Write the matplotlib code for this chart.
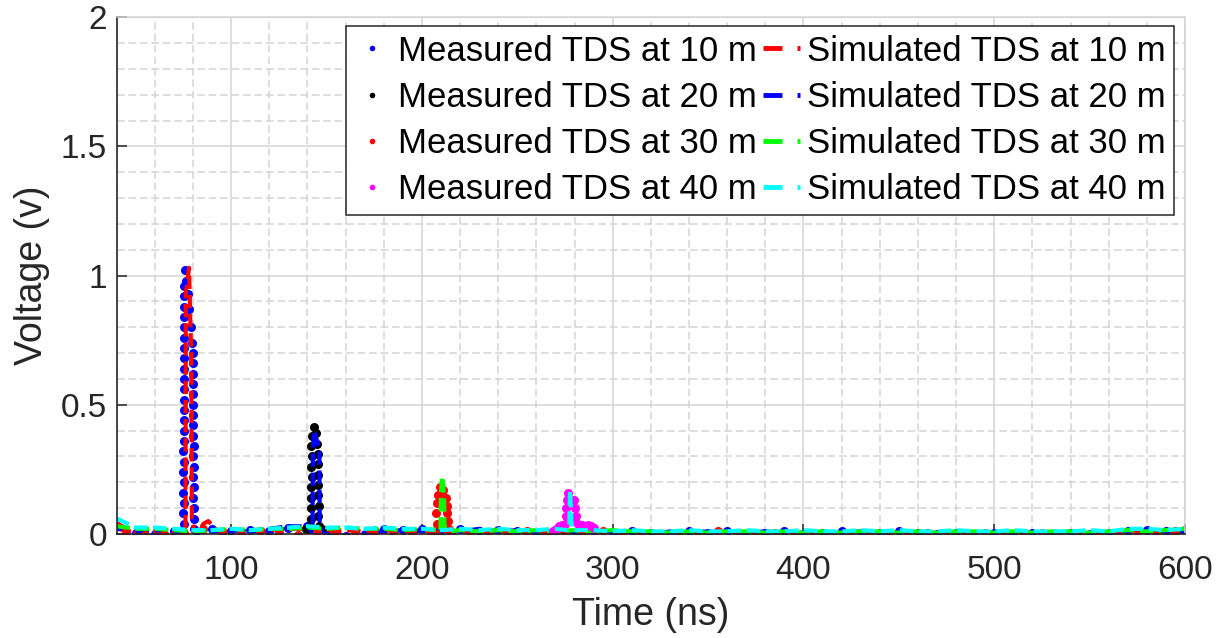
import numpy as np
import matplotlib
matplotlib.use('Agg')
import matplotlib.pyplot as plt
from matplotlib.lines import Line2D
from matplotlib.ticker import MultipleLocator

plt.rcParams['font.family'] = ['Liberation Sans', 'DejaVu Sans']

# baseline records are sampled every 10 ns, peaks are listed point by point
grid_step = 10

# Measured TDS at 10 m (blue dots), baseline from 40 ns
meas10_base = [0.03, 0.005, 0.0, 0.01, 0.0, 0.02, 0.01, 0.015, 0.01, 0.025,
               0.03, -0.005, -0.008, 0.0, 0.02, 0.015, 0.02, 0.01, 0.02, 0.01,
               0.015, 0.01, 0.005, 0.01, 0.0, 0.01, 0.005, 0.01, 0.005, 0.0,
               0.01, 0.005, 0.01, 0.0, 0.005, 0.01, 0.0, 0.005, 0.01, 0.0,
               0.005, 0.01, 0.005, 0.0, 0.005, 0.0, 0.005, 0.0, 0.005, 0.0,
               0.005, 0.0, 0.005, 0.01, 0.015, 0.01, 0.015]
meas10_peak_t = [74.7, 75.1, 74.8, 75.2, 74.8, 75.1, 74.9, 75.3, 74.9, 75.2,
                 75.0, 75.3, 75.0, 75.3, 75.0, 75.4, 75.1, 75.4, 75.1, 75.4,
                 75.2, 75.5, 75.3, 75.5, 75.5, 75.6,
                 76.3, 77.1, 77.9, 78.7, 79.4, 79.8, 80.0, 79.8, 80.1, 79.9,
                 80.2, 80.0, 80.2, 80.0, 80.3, 80.1, 80.3, 80.1, 80.4, 80.2,
                 80.4, 80.3, 80.6, 81.3]
meas10_peak_v = [0.0, 0.04, 0.08, 0.12, 0.16, 0.20, 0.24, 0.28, 0.32, 0.36,
                 0.40, 0.44, 0.48, 0.52, 0.56, 0.60, 0.64, 0.68, 0.72, 0.76,
                 0.80, 0.84, 0.88, 0.92, 0.96, 1.02,
                 0.98, 0.93, 0.87, 0.80, 0.74, 0.70, 0.66, 0.62, 0.58, 0.54,
                 0.50, 0.46, 0.42, 0.38, 0.34, 0.30, 0.26, 0.22, 0.18, 0.14,
                 0.10, 0.06, 0.02, -0.01]

# Simulated TDS at 10 m (red dashes)
sim10_base = [0.04, 0.005, 0.01, 0.005, 0.0, 0.0, 0.015, 0.01, 0.015, 0.02,
              0.02, 0.01, 0.015, 0.01, 0.015, 0.01, 0.015, 0.005, 0.01, 0.005,
              0.01, 0.0, 0.005, 0.01, 0.005, -0.005, 0.005, 0.01, 0.005, 0.0,
              0.005, 0.01, 0.005, 0.0, 0.01, 0.005, 0.0, 0.005, -0.005, 0.005,
              0.0, 0.005, 0.01, 0.0, 0.005, 0.0, 0.005, 0.0, 0.005, -0.005,
              0.005, 0.0, 0.005, 0.01, 0.005, 0.01, 0.005]
sim10_peak_t = [76.0, 76.2, 77.9, 79.1, 79.4, 81.0, 83.0, 85.5, 88.0, 90.5, 93.0]
sim10_peak_v = [0.0, 0.93, 1.03, 0.66, 0.06, 0.0, 0.01, 0.04, 0.05, 0.03, 0.01]

# Measured TDS at 20 m (black dots), only the reflection is visible
meas20_t = [139.0, 140.5, 141.5, 141.9, 141.6, 142.0, 141.7, 142.1, 141.8, 142.2,
            142.0, 142.6, 143.5, 144.3, 144.9, 145.3, 145.6, 145.4, 145.7, 145.5,
            145.8, 145.6, 146.0, 147.5]
meas20_v = [0.02, 0.02, 0.03, 0.06, 0.10, 0.14, 0.18, 0.22, 0.26, 0.30,
            0.34, 0.38, 0.415, 0.39, 0.35, 0.31, 0.27, 0.23, 0.19, 0.15,
            0.11, 0.07, 0.03, 0.02]

# Simulated TDS at 20 m (blue dashes)
sim20_base = [0.02, 0.01, 0.015, 0.01, 0.0, 0.01, 0.015, 0.01, 0.02, 0.03,
              0.03, 0.0, -0.005, -0.005, 0.01, 0.015, 0.01, 0.015, 0.01, 0.02,
              0.01, 0.015, 0.01, 0.005, 0.01, 0.005, 0.01, 0.005, 0.0, 0.01,
              0.005, 0.01, 0.0, 0.005, 0.01, 0.0, 0.005, 0.0, 0.005, 0.01,
              0.0, 0.005, 0.0, 0.005, 0.0, 0.005, 0.0, 0.005, 0.0, 0.0,
              0.005, 0.0, 0.0, 0.005, 0.01, 0.005, 0.01]
sim20_peak_t = [142.6, 142.8, 143.4, 146.2, 146.4, 148.0]
sim20_peak_v = [0.0, 0.33, 0.40, 0.33, 0.03, 0.0]

# Measured TDS at 30 m (red dots), baseline from 45 ns
meas30_base = [0.01, -0.005, 0.0, 0.005, 0.02, 0.005, 0.0, 0.01, 0.005, -0.005,
               0.01, 0.005, 0.01, 0.0, 0.01, 0.005, 0.0, 0.0, -0.008, 0.005,
               0.0, 0.01, -0.005, 0.005, 0.0, 0.01, 0.0, 0.005, -0.005, 0.005,
               0.0, 0.01, 0.0, -0.005, 0.005, 0.0, 0.005, -0.005, 0.0, 0.005,
               -0.005, 0.0, 0.005, 0.0, -0.005, 0.005, 0.0, -0.008, 0.005, 0.0,
               -0.005, 0.005, 0.0, 0.01, 0.005, 0.01]
meas30_peak_t = [207.4, 207.9, 207.5, 208.0, 208.6, 209.6, 210.8, 212.6, 213.0,
                 213.2, 213.5, 214.0, 214.8]
meas30_peak_v = [0.0, 0.04, 0.08, 0.12, 0.15, 0.18, 0.17, 0.14, 0.11,
                 0.08, 0.05, 0.02, -0.01]

# Simulated TDS at 30 m (green dashes)
sim30_base = [0.03, 0.02, 0.02, 0.015, 0.01, 0.015, 0.02, 0.015, 0.02, 0.02,
              0.025, 0.02, 0.025, 0.02, 0.02, 0.015, 0.02, 0.015, 0.015, 0.01,
              0.015, 0.01, 0.015, 0.01, 0.015, 0.01, 0.015, 0.01, 0.01, 0.005,
              0.01, 0.005, 0.01, 0.01, 0.005, 0.01, 0.005, 0.01, 0.005, 0.01,
              0.01, 0.005, 0.01, 0.005, 0.01, 0.01, 0.005, 0.01, 0.005, 0.01,
              0.01, 0.005, 0.01, 0.015, 0.01, 0.015, 0.02]
sim30_peak_t = [208.5, 209.7, 209.9, 210.6, 211.6, 211.8, 213.5]
sim30_peak_v = [0.015, 0.01, 0.15, 0.224, 0.15, 0.02, 0.01]

# Measured TDS at 40 m (magenta dots)
meas40_t = [268.5, 270.5, 272.0, 273.5, 275.0, 275.4, 275.7, 276.0, 276.6, 279.8,
            280.3, 280.7, 281.0, 282.5, 284.0, 285.5, 287.0, 288.5, 290.0]
meas40_v = [0.01, 0.02, 0.03, 0.035, 0.04, 0.07, 0.10, 0.13, 0.159, 0.13,
            0.10, 0.07, 0.045, 0.035, 0.035, 0.03, 0.035, 0.03, 0.025]

# Simulated TDS at 40 m (cyan dashes)
sim40_base = [0.06, 0.025, 0.025, 0.02, 0.015, 0.015, 0.02, 0.015, 0.02, 0.025,
              0.03, 0.025, 0.025, 0.02, 0.025, 0.02, 0.02, 0.015, 0.02, 0.015,
              0.02, 0.015, 0.015, 0.02, 0.015, 0.015, 0.01, 0.015, 0.01, 0.01,
              0.015, 0.01, 0.01, 0.015, 0.01, 0.01, 0.015, 0.01, 0.01, 0.015,
              0.01, 0.015, 0.01, 0.01, 0.015, 0.01, 0.01, 0.015, 0.01, 0.01,
              0.01, 0.015, 0.01, 0.02, 0.02, 0.015, 0.02]
sim40_peak_t = [276.0, 277.2, 277.6, 278.3, 278.6, 279.0, 281.0]
sim40_peak_v = [0.015, 0.02, 0.17, 0.06, 0.02, 0.015, 0.015]

distances = ['10', '20', '30', '40']
meas_colors = ['#0000ff', '#000000', '#ff0000', '#ff00ff']
sim_colors = ['#ff0000', '#0000ff', '#00ff00', '#00ffff']

x_ticks = [100, 200, 300, 400, 500, 600]
y_ticks = [0, 0.5, 1, 1.5, 2]
y_tick_labels = ['0', '0.5', '1', '1.5', '2']


# Put the peak samples into the 10 ns baseline record
def merge(base_v, peak_t, peak_v, start=40):
    base_t = start + grid_step * np.arange(len(base_v))
    base_v = np.asarray(base_v, dtype=float)
    keep = (base_t < min(peak_t)) | (base_t > max(peak_t))
    t = np.concatenate([base_t[keep], peak_t])
    v = np.concatenate([base_v[keep], peak_v])
    order = np.argsort(t, kind='stable')
    return t[order], v[order]


meas = [merge(meas10_base, meas10_peak_t, meas10_peak_v),
        (np.array(meas20_t), np.array(meas20_v)),
        merge(meas30_base, meas30_peak_t, meas30_peak_v, start=45),
        (np.array(meas40_t), np.array(meas40_v))]
sims = [merge(sim10_base, sim10_peak_t, sim10_peak_v),
        merge(sim20_base, sim20_peak_t, sim20_peak_v),
        merge(sim30_base, sim30_peak_t, sim30_peak_v),
        merge(sim40_base, sim40_peak_t, sim40_peak_v)]

fig = plt.figure(figsize=(12.16, 6.38), dpi=100)
ax = fig.add_axes([0.096, 0.163, 0.8785, 0.81])

sim_dash = (0, (3.2, 1.4))
for i in range(4):
    t, v = meas[i]
    ax.plot(t, v, ls='none', marker='o', ms=6.5, mew=0, color=meas_colors[i])
    t, v = sims[i]
    ax.plot(t, v, ls=sim_dash, lw=3.0, color=sim_colors[i])

ax.set_xlim(40, 600)
ax.set_ylim(0, 2)
ax.set_xticks(x_ticks)
ax.set_yticks(y_ticks, y_tick_labels)
ax.xaxis.set_minor_locator(MultipleLocator(20))
ax.yaxis.set_minor_locator(MultipleLocator(0.1))

grid_color = '#d4d4d4'
ax.set_axisbelow(True)
ax.grid(which='major', color=grid_color, lw=1.1, ls='-')
ax.grid(which='minor', color=grid_color, lw=1.1, ls=(0, (5, 2.5)))

for side in ['top', 'right']:
    ax.spines[side].set_color(grid_color)
    ax.spines[side].set_linewidth(1.1)
for side in ['left', 'bottom']:
    ax.spines[side].set_color('#262626')
    ax.spines[side].set_linewidth(1.2)

ax.tick_params(which='major', direction='in', length=7, width=1.1,
               colors='#262626', labelsize=24)
ax.tick_params(axis='x', pad=15)
ax.tick_params(axis='y', pad=7)
ax.tick_params(which='minor', length=0)

ax.set_xlabel('Time (ns)', fontsize=27, color='#262626', labelpad=8)
ax.set_ylabel('Voltage (v)', fontsize=27, color='#262626', labelpad=8)

# legend: measured on the left column, simulated on the right column
handles = []
labels = []
for i in range(4):
    handles.append(Line2D([], [], ls='none', marker='o', ms=4, mew=0,
                          color=meas_colors[i]))
    labels.append('Measured TDS at ' + distances[i] + ' m')
for i in range(4):
    handles.append(Line2D([], [], lw=3.5, ls=(0, (3.9, 3.1)),
                          color=sim_colors[i]))
    labels.append('Simulated TDS at ' + distances[i] + ' m')

leg = ax.legend(handles, labels, ncol=2, loc='upper right',
                bbox_to_anchor=(0.9897, 0.9832), borderaxespad=0,
                fontsize=25, handlelength=1.05, handletextpad=0.2,
                columnspacing=0.2, labelspacing=0.38, borderpad=0.25,
                fancybox=False, framealpha=1, edgecolor='#262626')
leg.get_frame().set_linewidth(1.1)

fig.savefig('out.png', dpi=100)
